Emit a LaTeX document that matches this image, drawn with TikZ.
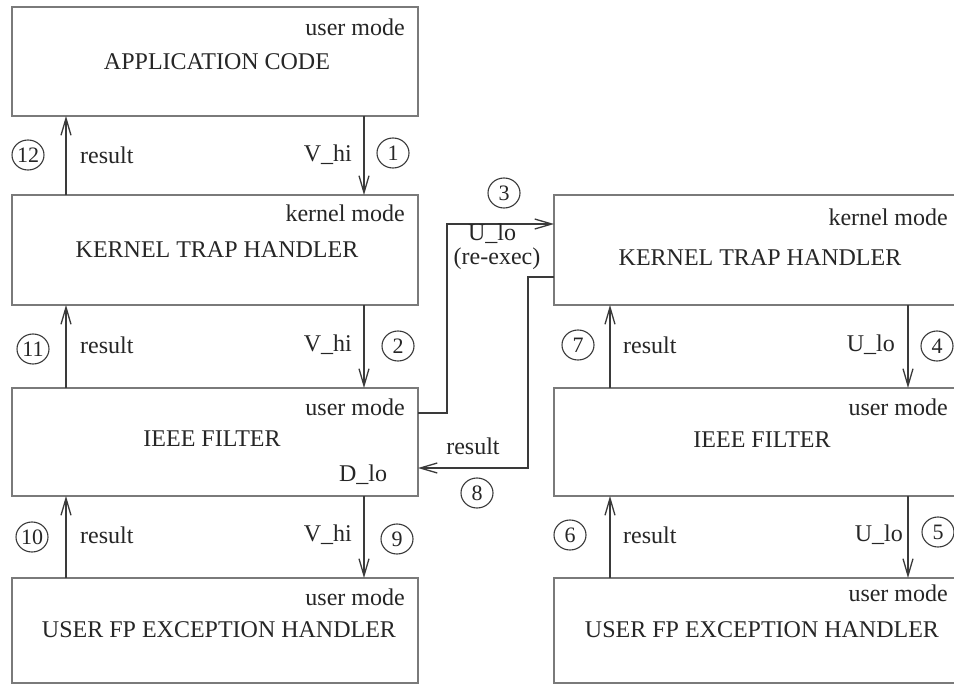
\documentclass[tikz,border=0pt]{standalone}
\usepackage{fontspec}
\setmainfont{Liberation Serif}
\usetikzlibrary{arrows.meta,shapes.geometric}
\definecolor{boxgray}{HTML}{7A7A7A}
\definecolor{arrgray}{HTML}{3A3A3A}
\definecolor{txtgray}{HTML}{262626}
\begin{document}
\begin{tikzpicture}[x=1pt,y=-1pt,
  box/.style={draw=boxgray,line width=1.6pt,rectangle,minimum width=406pt,inner sep=0pt,outer sep=0pt},
  lbl/.style={inner sep=0pt,text=txtgray,font=\fontsize{24}{26}\selectfont},
  num/.style={draw=arrgray,line width=1.1pt,ellipse,minimum width=32pt,minimum height=30pt,inner sep=0pt,text=txtgray,font=\fontsize{22}{24}\selectfont},
  arr/.style={draw=arrgray,line width=1.3pt,-{Straight Barb[length=17pt,width=10pt,line width=1.3pt]}}]
\useasboundingbox (0,0) rectangle (954,685);
\fill[white] (0,0) rectangle (954,685);
\clip (0,0) rectangle (954,685);
% left column
\node[box,minimum height=109pt] (A)  at (215,61.5) {};
\node[box,minimum height=110pt] (K1) at (215,250) {};
\node[box,minimum height=108pt] (F1) at (215,442) {};
\node[box,minimum height=105pt] (U1) at (215,630.5) {};
% right column
\node[box,minimum height=110pt] (K2) at (757,250) {};
\node[box,minimum height=108pt] (F2) at (757,442) {};
\node[box,minimum height=105pt] (U2) at (757,630.5) {};
% texts inside boxes
\node[lbl,anchor=east] (Am) at (405,27) {user mode};
\node[lbl] (At) at (217,62) {APPLICATION CODE};
\node[lbl,anchor=east] (K1m) at (405,213) {kernel mode};
\node[lbl] (K1t) at (217,250) {KERNEL TRAP HANDLER};
\node[lbl,anchor=east] (F1m) at (405,407) {user mode};
\node[lbl] (F1t) at (212,439) {IEEE FILTER};
\node[lbl] (F1d) at (363,475) {D\_lo};
\node[lbl,anchor=east] (U1m) at (405,597) {user mode};
\node[lbl] (U1t) at (219,630) {USER FP EXCEPTION HANDLER};
\node[lbl,anchor=east] (K2m) at (948,217) {kernel mode};
\node[lbl] (K2t) at (760,258) {KERNEL TRAP HANDLER};
\node[lbl,anchor=east] (F2m) at (948,407) {user mode};
\node[lbl] (F2t) at (762,440) {IEEE FILTER};
\node[lbl,anchor=east] (U2m) at (948,593) {user mode};
\node[lbl] (U2t) at (762,630) {USER FP EXCEPTION HANDLER};
% vertical connectors left
\draw[arr] ([xshift=149pt]A.south) -- ([xshift=149pt]K1.north);
\draw[arr] ([xshift=149pt]K1.south) -- ([xshift=149pt]F1.north);
\draw[arr] ([xshift=149pt]F1.south) -- ([xshift=149pt]U1.north);
\draw[arr] ([xshift=-149pt]K1.north) -- ([xshift=-149pt]A.south);
\draw[arr] ([xshift=-149pt]F1.north) -- ([xshift=-149pt]K1.south);
\draw[arr] ([xshift=-149pt]U1.north) -- ([xshift=-149pt]F1.south);
% vertical connectors right
\draw[arr] ([xshift=151pt]K2.south) -- ([xshift=151pt]F2.north);
\draw[arr] ([xshift=151pt]F2.south) -- ([xshift=151pt]U2.north);
\draw[arr] ([xshift=-147pt]F2.north) -- ([xshift=-147pt]K2.south);
\draw[arr] ([xshift=-147pt]U2.north) -- ([xshift=-147pt]F2.south);
% cross connectors
\draw[arr] ([yshift=29pt]F1.east) -- ++(29,0) |- ([yshift=26pt]K2.west);
\draw[arr] ([yshift=-27pt]K2.west) -- ++(-26,0) |- ([yshift=-26pt]F1.east);
% left labels
\node[num] (n12) at (28,155) {12};
\node[lbl,anchor=west] (r12) at (80,155) {result};
\node[lbl,anchor=east] (v1) at (352,155) {V\_hi};
\node[num] (n1) at (393,153) {1};
\node[num] (n11) at (33,349) {11};
\node[lbl,anchor=west] (r11) at (80,345) {result};
\node[lbl,anchor=east] (v2) at (352,345) {V\_hi};
\node[num] (n2) at (398,346) {2};
\node[num] (n10) at (32,537) {10};
\node[lbl,anchor=west] (r10) at (80,535) {result};
\node[lbl,anchor=east] (v9) at (352,535) {V\_hi};
\node[num] (n9) at (397,539) {9};
% right labels
\node[num] (n7) at (578,345) {7};
\node[lbl,anchor=west] (r7) at (623,345) {result};
\node[lbl,anchor=east] (u4) at (895,345) {U\_lo};
\node[num] (n4) at (937,346) {4};
\node[num] (n6) at (570,535) {6};
\node[lbl,anchor=west] (r6) at (623,535) {result};
\node[lbl,anchor=east] (u5) at (903,535) {U\_lo};
\node[num] (n5) at (938,532) {5};
% middle labels
\node[num] (n3) at (504,193) {3};
\node[lbl] (u3) at (492,234) {U\_lo};
\node[lbl] (re) at (497,259) {(re-exec)};
\node[lbl] (r8) at (473,446) {result};
\node[num] (n8) at (477,493) {8};
\end{tikzpicture}
\end{document}
